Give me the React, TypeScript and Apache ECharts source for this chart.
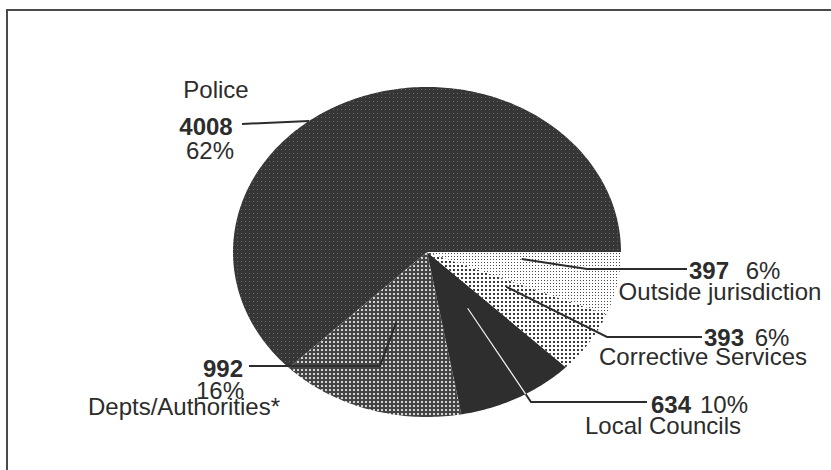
import { useEffect, useRef } from "react";
import * as echarts from "echarts";

// Complaints received, by body complained about
const categories = ["Police", "Depts/Authorities*", "Local Councils", "Corrective Services", "Outside jurisdiction"];
const complaints = [4008, 992, 634, 393, 397];
const shareLabels = ["62%", "16%", "10%", "6%", "6%"];

const FONT = '"Liberation Sans", Arial, Helvetica, sans-serif';
const INK = "#2c2c2c";
const FS = 24;

// Pie drawn as an ellipse, slices running anticlockwise from 3 o'clock
const CX = 427;
const CY = 252;
const RX = 194;
const RY = 165;

type Txt = { x: number; y: number };
type Leader = {
  anchor: [number, number]; // [angle in degrees, fraction of radius]
  path: [number, number][];
  value: Txt;
  share: Txt;
  name: Txt;
  white?: boolean; // part of the leader that lies over a dark slice is drawn white
};

// label blocks, positions are text centres
const leaders: Leader[] = [
  {
    anchor: [127.4, 1.0],
    path: [[242, 124]],
    name: { x: 216, y: 89 },
    value: { x: 206, y: 126 },
    share: { x: 210, y: 150 },
  },
  {
    anchor: [249.5, 0.45],
    path: [[380, 366], [249, 366]],
    value: { x: 223, y: 368 },
    share: { x: 220, y: 390 },
    name: { x: 184, y: 406 },
  },
  {
    anchor: [301.6, 0.4],
    path: [[531, 402], [647, 402]],
    value: { x: 671, y: 404 },
    share: { x: 724, y: 404 },
    name: { x: 663, y: 425 },
    white: true,
  },
  {
    anchor: [332.7, 0.46],
    path: [[607, 337], [702, 337]],
    value: { x: 724, y: 337 },
    share: { x: 772, y: 337 },
    name: { x: 703, y: 356 },
  },
  {
    anchor: [355, 0.49],
    path: [[587, 269], [687, 269]],
    value: { x: 709, y: 270 },
    share: { x: 763, y: 270 },
    name: { x: 720, y: 291 },
  },
];

function ellipsePoint(deg: number, frac = 1): [number, number] {
  const a = (deg * Math.PI) / 180;
  return [CX + RX * frac * Math.cos(a), CY - RY * frac * Math.sin(a)];
}

function insideEllipse(p: [number, number]) {
  const dx = (p[0] - CX) / RX;
  const dy = (p[1] - CY) / RY;
  return dx * dx + dy * dy <= 1;
}

// point where the segment a->b leaves the ellipse
function exitPoint(a: [number, number], b: [number, number]): [number, number] {
  let lo = 0;
  let hi = 1;
  for (let k = 0; k < 30; k++) {
    const m = (lo + hi) / 2;
    const p: [number, number] = [a[0] + (b[0] - a[0]) * m, a[1] + (b[1] - a[1]) * m];
    if (insideEllipse(p)) lo = m;
    else hi = m;
  }
  return [a[0] + (b[0] - a[0]) * lo, a[1] + (b[1] - a[1]) * lo];
}

function dotPattern(bg: string, dot: string, tile: number, dots: [number, number, number][]) {
  const c = document.createElement("canvas");
  c.width = tile;
  c.height = tile;
  const g = c.getContext("2d")!;
  g.fillStyle = bg;
  g.fillRect(0, 0, tile, tile);
  g.fillStyle = dot;
  for (const [x, y, s] of dots) g.fillRect(x, y, s, s);
  return { image: c, repeat: "repeat", imageWidth: tile, imageHeight: tile };
}

export default function App() {
  const ref = useRef<HTMLDivElement>(null);

  useEffect(() => {
    if (!ref.current) return;
    const chart = echarts.init(ref.current, undefined, { renderer: "svg" });

    const fills = [
      dotPattern("#363636", "#6a6a6a", 4, [[1, 1, 1]]),
      dotPattern("#444444", "#d2d2d2", 4, [[1, 1, 2]]),
      "#2e2e2e",
      dotPattern("#ffffff", "#3a3a3a", 4, [[1, 1, 2]]),
      dotPattern("#ffffff", "#4a4a4a", 3, [[1, 1, 1]]),
    ];

    const total = complaints.reduce((s, v) => s + v, 0);
    const starts: number[] = [];
    let acc = 0;
    complaints.forEach((v) => {
      starts.push((acc / total) * 360);
      acc += v;
    });

    const textEl = (t: Txt, text: string, bold: boolean) => ({
      type: "text",
      z2: 20,
      style: {
        text,
        x: t.x,
        y: t.y,
        align: "center",
        verticalAlign: "middle",
        fill: INK,
        fontFamily: FONT,
        fontSize: FS,
        fontWeight: bold ? "bold" : "normal",
      },
    });

    const option = {
      animation: false,
      backgroundColor: "#ffffff",
      graphic: [
        {
          type: "polyline",
          shape: { points: [[7, 470], [7, 10], [831, 10]] },
          style: { stroke: "#4a4a4a", lineWidth: 2, fill: "none" },
        },
      ],
      series: [
        {
          type: "custom",
          coordinateSystem: "none",
          data: complaints.map((v, i) => ({ value: v, name: categories[i] })),
          renderItem: (params: any, api: any) => {
            const i = params.dataIndex;
            const a0 = starts[i];
            const a1 = a0 + (api.value(0) / total) * 360;
            const pts: [number, number][] = [[CX, CY]];
            const steps = Math.max(2, Math.ceil(a1 - a0));
            for (let k = 0; k <= steps; k++) pts.push(ellipsePoint(a0 + ((a1 - a0) * k) / steps));

            const L = leaders[i];
            const anchor = ellipsePoint(L.anchor[0], L.anchor[1]);
            const line = [anchor, ...L.path];
            const children: any[] = [
              { type: "polygon", z2: 1, shape: { points: pts }, style: { fill: fills[i] } },
              {
                type: "polyline",
                z2: 10,
                shape: { points: line },
                style: { stroke: INK, lineWidth: 2, fill: "none" },
              },
            ];
            if (L.white) {
              const edge = exitPoint(anchor, L.path[0]);
              children.push({
                type: "line",
                z2: 11,
                shape: { x1: anchor[0], y1: anchor[1], x2: edge[0], y2: edge[1] },
                style: { stroke: "#f4f4f4", lineWidth: 1.2 },
              });
            }
            children.push(textEl(L.value, String(complaints[i]), true));
            children.push(textEl(L.share, shareLabels[i], false));
            children.push(textEl(L.name, categories[i], false));
            return { type: "group", children };
          },
        },
      ],
    };

    chart.setOption(option as any);
    return () => chart.dispose();
  }, []);

  return (
    <div
      ref={ref}
      style={{ position: "fixed", left: 0, top: 0, width: 831, height: 470, background: "#fff" }}
    />
  );
}
